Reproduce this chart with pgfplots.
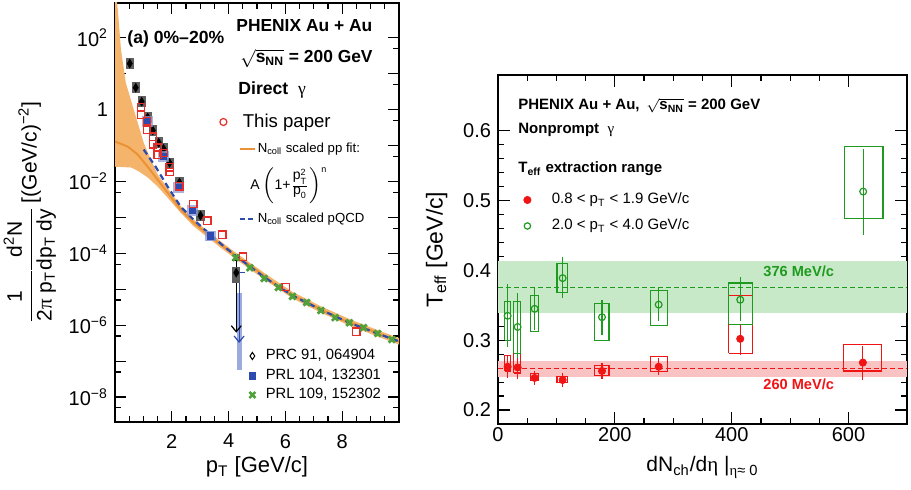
\documentclass[border=0pt]{standalone}
\usepackage{pgfplots}
\pgfplotsset{compat=1.18}
\usetikzlibrary{arrows.meta}
\usepackage{fontspec}
\setmainfont{Liberation Sans}
\newfontfamily\symf{Liberation Serif}
\definecolor{bandor}{RGB}{244,180,108}
\definecolor{lineor}{RGB}{236,146,52}
\definecolor{dblue}{RGB}{45,75,175}
\definecolor{lblue}{RGB}{140,155,215}
\definecolor{dgreen}{RGB}{80,160,60}
\definecolor{pred}{RGB}{230,45,40}
\definecolor{rgreen}{RGB}{30,155,30}
\definecolor{rred}{RGB}{240,20,20}
\definecolor{gband}{RGB}{200,233,200}
\definecolor{rband}{RGB}{250,195,195}
\definecolor{gbox}{RGB}{95,95,95}
\newcommand{\fs}[1]{\fontsize{#1}{#1}\selectfont}
\pgfplotsset{
 legaxis/.style={at={(0pt,0pt)}, anchor=south west, width=455.5pt, height=245pt,
   scale only axis, hide axis, xmin=0, xmax=911, ymin=0, ymax=490, y dir=reverse,
   legend style={draw=none, fill=none, inner sep=0pt, outer sep=0pt, column sep=0pt,
     row sep=0pt, nodes={inner sep=0pt, outer sep=0pt}, anchor=west},
   legend cell align=left},
}
% #1 legend left x (px) = text start - 28, #2 y px, #3 font size, #4 image code, #5 text
\newcommand{\legitem}[5]{%
 \begin{axis}[legaxis, legend style={at={(axis cs:#1,#2)}, font=\fs{#3}},
   legend image code/.code={#4 \path (-14pt,-1pt) (0pt,1pt);}]
 \addlegendimage{}
 \addlegendentry{#5}
 \end{axis}}
\newcommand{\sysbox}[5]{\addplot[#1, line width=0.6pt, no marks, forget plot] coordinates {(#2,#4) (#3,#4) (#3,#5) (#2,#5) (#2,#4)};}
\begin{document}
\begin{tikzpicture}
\path[use as bounding box] (0,0) rectangle (455.5pt,245pt);
% ================= LEFT PANEL =================
\begin{axis}[
 at={(57.5pt,34pt)}, anchor=south west, scale only axis, width=142pt, height=209.5pt,
 ymode=log, xmin=0, xmax=10, ymin=2.02e-9, ymax=927,
 xtick={2,4,6,8},
 minor xtick={0.5,1,1.5,2.5,3,3.5,4.5,5,5.5,6.5,7,7.5,8.5,9,9.5},
 ytick={1e-8,1e-6,1e-4,1e-2,1,1e2},
 yticklabels={10\textsuperscript{−8},10\textsuperscript{−6},10\textsuperscript{−4},10\textsuperscript{−2},1,10\textsuperscript{2}},
 extra y ticks={1e-7,1e-5,1e-3,1e-1,1e1}, extra y tick labels={},
 minor ytick={5e-9,5e-8,5e-7,5e-6,5e-5,5e-4,5e-3,5e-2,5e-1,5,50},
 major tick length=5.5pt, minor tick length=2.8pt,
 tick style={black, line width=0.6pt},
 axis line style={line width=0.7pt},
 tick label style={font=\fs{10}},
 xticklabel style={yshift=-2.5pt},
 /pgf/number format/assume math mode=true,
 xlabel={p\textsubscript{T} [GeV/c]},
 xlabel style={at={(axis description cs:0.5,-0.1217)}, anchor=base, font=\fs{11}},
 ylabel={$\displaystyle\frac{\mbox{1}}{\mbox{2{\symf π} p\textsubscript{T}}}\!\frac{\mbox{d\textsuperscript{2}N}}{\mbox{dp\textsubscript{T} dy}}$\,[(GeV/c)\textsuperscript{−2}]},
 ylabel style={at={(axis description cs:-0.30,0.5)}, anchor=center, font=\fs{10.5}},
]
% pp fit band
\addplot[fill=bandor, draw=none, forget plot] coordinates {
 (0,3162) (0.1,603) (0.21,46.8) (0.38,5.62) (0.63,1.20) (0.84,0.339) (1.01,0.120)
 (1.26,0.0407) (1.5,0.0158) (1.85,0.0066) (2.31,0.00209) (2.76,8.91e-4) (3.36,3.55e-4)
 (3.81,1.91e-4) (4.3,9.77e-5) (5.28,2.75e-5) (6.26,8.32e-6) (7.27,3.31e-6) (8.25,1.48e-6)
 (9.23,7.41e-7) (10,4.37e-7)
 (10,2.88e-7) (9.23,4.9e-7) (8.25,9.77e-7) (7.27,2.19e-6) (6.26,5.5e-6) (5.28,1.82e-5)
 (4.3,6.46e-5) (3.81,1.26e-4) (3.36,2.4e-4) (2.76,5.75e-4) (2.31,0.00135) (1.85,0.00355)
 (1.5,0.00724) (1.15,0.0129) (0.84,0.0191) (0.56,0.0245) (0,0.0257)};
% pp fit central
\addplot[lineor, line width=1pt, no marks, forget plot] coordinates {
 (0,0.129) (0.45,0.0933) (0.80,0.0562) (1.15,0.0257) (1.50,0.0112) (1.85,0.0049)
 (2.31,0.00166) (2.76,7.24e-4) (3.36,2.95e-4) (3.81,1.55e-4) (4.3,7.94e-5) (4.83,4.17e-5)
 (5.28,2.24e-5) (5.73,1.2e-5) (6.26,6.76e-6) (6.75,4.37e-6) (7.27,2.69e-6) (7.76,1.7e-6)
 (8.25,1.2e-6) (8.78,8.51e-7) (9.23,6.03e-7) (9.76,4.17e-7) (10,3.55e-7)};
% pQCD
\addplot[dblue, line width=1.1pt, dash pattern=on 3pt off 2pt, no marks, forget plot] coordinates {
 (1.01,0.0776) (1.43,0.0257) (1.85,0.00724) (2.31,0.002) (2.76,8.71e-4) (3.36,3.31e-4)
 (3.81,1.62e-4) (4.3,7.94e-5) (5.28,2.09e-5) (6.26,6.61e-6) (7.27,2.63e-6) (8.25,1.17e-6)
 (9.23,5.89e-7) (10,3.55e-7)};
% upper limits
\addplot[lblue, line width=2.6pt, opacity=0.85, no marks, forget plot] coordinates {(4.39,8.1e-6) (4.39,5.75e-8)};
\addplot[dblue, line width=0.6pt, no marks, forget plot, -{Straight Barb[length=3pt,width=5pt]}] coordinates {(4.37,2.88e-5) (4.37,3.2e-7)};
\addplot[dblue, line width=0.7pt, no marks, forget plot] coordinates {(4.25,2.88e-5) (4.58,2.88e-5)};
\addplot[gbox, only marks, mark=square*, mark size=1.8pt, mark options={yscale=2.1}, forget plot] coordinates {(4.27,2.5e-5)};
\addplot[black, line width=0.6pt, no marks, forget plot, -{Straight Barb[length=3pt,width=5pt]}] coordinates {(4.27,6.3e-5) (4.27,6.2e-7)};
\addplot[black, line width=0.7pt, no marks, forget plot] coordinates {(4.13,6.3e-5) (4.51,6.3e-5)};
% PRC 91 (gray boxes + black diamonds)
\addplot[gbox, only marks, mark=square*, mark size=1.8pt, mark options={yscale=1.35}, forget plot] coordinates {
 (0.52,19.1) (0.73,4.07) (0.94,1.66) (1.15,0.603) (1.33,0.263) (1.54,0.120) (1.71,0.0813)
 (1.92,0.0331) (2.27,0.00933) (3.01,0.00112)};
\addplot[black, only marks, mark=diamond*, mark size=2.1pt, mark options={xscale=0.8}, forget plot] coordinates {
 (0.52,19.1) (0.73,4.07) (0.94,1.66) (1.15,0.603) (1.33,0.263) (1.54,0.120) (1.71,0.0813)
 (1.92,0.0331) (2.27,0.00933) (3.01,0.00112) (4.27,2.88e-5)};
% PRL 104 (blue)
\addplot[lblue, only marks, mark=square*, mark size=2.4pt, opacity=0.75, forget plot] coordinates {
 (1.15,0.468) (1.71,0.049) (2.24,0.00676) (2.73,0.00155) (3.36,3.09e-4)};
\addplot[dblue, only marks, mark=square*, mark size=1.6pt, forget plot] coordinates {
 (1.15,0.468) (1.71,0.049) (2.24,0.00676) (2.73,0.00155) (3.36,3.09e-4) (4.41,1.8e-9)};
% This paper (red)
\addplot[pred, only marks, mark=square, mark size=1.8pt, line width=0.6pt, forget plot] coordinates {
 (0.91,1.20) (0.91,0.724) (1.12,0.468) (1.12,0.275) (1.33,0.178) (1.33,0.107) (1.50,0.0871)
 (1.50,0.0562) (1.71,0.0631) (1.92,0.0245) (1.92,0.0186) (2.27,0.00724) (2.76,0.0024)
 (3.25,8.13e-4) (3.78,3.31e-4) (4.51,8.13e-5) (6.01,1.17e-5) (8.50,6.61e-7)};
% PRL 109 (green)
\addplot[dgreen, only marks, mark=x, mark size=2.2pt, line width=1.4pt, forget plot] coordinates {
 (4.25,7.59e-5) (4.75,3.98e-5) (5.25,2.0e-5) (5.75,1.12e-5) (6.25,6.31e-6) (6.75,4.27e-6)
 (7.25,2.57e-6) (7.75,1.62e-6) (8.25,1.17e-6) (8.75,8.51e-7) (9.25,5.89e-7) (9.75,3.98e-7)};
\end{axis}
% ================= RIGHT PANEL =================
\begin{axis}[
 at={(249pt,33pt)}, anchor=south west, scale only axis, width=204.5pt, height=174.5pt,
 xmin=0, xmax=700, ymin=0.18, ymax=0.68,
 xtick={0,200,400,600}, minor x tick num=3,
 ytick={0.2,0.3,0.4,0.5,0.6}, yticklabels={0.2,0.3,0.4,0.5,0.6}, minor y tick num=4,
 major tick length=6pt, minor tick length=3pt,
 tick style={black, line width=0.6pt},
 axis line style={line width=0.7pt},
 tick label style={font=\fs{10}},
 xticklabel style={inner sep=1.5pt},
 /pgf/number format/assume math mode=true,
 xlabel={dN\textsubscript{ch}/d{\symf η} |\textsubscript{{\symf η}≈ 0}},
 xlabel style={at={(axis description cs:0.5,-0.1375)}, anchor=base, font=\fs{10.5}},
 ylabel={T\textsubscript{eff} [GeV/c]},
 ylabel style={at={(axis description cs:-0.150,0.5)}, anchor=center, font=\fs{11.5}},
]
\addplot[fill=gband, draw=none, forget plot] coordinates {(0,0.339) (700,0.339) (700,0.413) (0,0.413)};
\addplot[fill=rband, draw=none, forget plot] coordinates {(0,0.248) (700,0.248) (700,0.270) (0,0.270)};
\addplot[rgreen, line width=0.6pt, dash pattern=on 2.5pt off 1.5pt, no marks, forget plot] coordinates {(0,0.376) (700,0.376)};
\addplot[rred, line width=0.6pt, dash pattern=on 2.5pt off 1.5pt, no marks, forget plot] coordinates {(0,0.260) (700,0.260)};
% red systematic boxes
\sysbox{rred}{11.4}{21.1}{0.256}{0.278}
\sysbox{rred}{26.8}{38.2}{0.253}{0.281}
\sysbox{rred}{55.3}{69.6}{0.242}{0.252}
\sysbox{rred}{101}{119}{0.239}{0.248}
\sysbox{rred}{165}{190}{0.250}{0.264}
\sysbox{rred}{260.6}{290}{0.255}{0.277}
\sysbox{rred}{394.6}{435.7}{0.281}{0.364}
\sysbox{rred}{591}{657}{0.256}{0.294}
% green systematic boxes
\sysbox{rgreen}{11.4}{21.1}{0.300}{0.355}
\sysbox{rgreen}{26.8}{38.2}{0.281}{0.355}
\sysbox{rgreen}{55.3}{69.6}{0.313}{0.364}
\sysbox{rgreen}{101}{119}{0.368}{0.410}
\sysbox{rgreen}{165}{190}{0.300}{0.353}
\sysbox{rgreen}{260.6}{290}{0.321}{0.371}
\sysbox{rgreen}{394.6}{435.7}{0.323}{0.382}
\sysbox{rgreen}{593.6}{658.8}{0.474}{0.578}
% red points
\addplot[rred, only marks, mark=*, mark size=1.8pt, forget plot,
 error bars/.cd, y dir=both, y explicit, error mark=none, error bar style={line width=0.6pt}]
 coordinates {
 (16.5,0.262) += (0,0.016) -= (0,0.016)
 (33.6,0.261) += (0,0.016) -= (0,0.016)
 (62.7,0.246) += (0,0.010) -= (0,0.010)
 (110.6,0.243) += (0,0.0095) -= (0,0.0095)
 (178,0.256) += (0,0.011) -= (0,0.011)
 (275,0.262) += (0,0.012) -= (0,0.012)
 (414.6,0.302) += (0,0.020) -= (0,0.023)
 (624.5,0.268) += (0,0.024) -= (0,0.025)};
% green points
\addplot[rgreen, only marks, mark=o, mark size=1.7pt, line width=0.6pt, forget plot,
 error bars/.cd, y dir=both, y explicit, error mark=none, error bar style={line width=0.6pt}]
 coordinates {
 (16.5,0.335) += (0,0.045) -= (0,0.045)
 (33.6,0.319) += (0,0.049) -= (0,0.044)
 (62.7,0.345) += (0,0.031) -= (0,0.030)
 (110.6,0.389) += (0,0.030) -= (0,0.029)
 (178,0.333) += (0,0.024) -= (0,0.025)
 (275,0.351) += (0,0.025) -= (0,0.024)
 (414.6,0.358) += (0,0.032) -= (0,0.031)
 (625,0.513) += (0,0.061) -= (0,0.062)};
\end{axis}
% ================= LEGENDS =================
\legitem{214}{122}{9.3}{\draw[pred, line width=0.6pt] (-9.5pt,0pt) circle (1.75pt);}{This paper}
\legitem{229}{149}{6.6}{\draw[lineor, line width=1.2pt] (-8.5pt,0pt) -- (-1pt,0pt);}{N\textsubscript{coll} scaled pp fit:}
\legitem{229}{219}{6.6}{\draw[dblue, line width=1pt, dash pattern=on 2.5pt off 1.5pt] (-8.5pt,0pt) -- (-0.5pt,0pt);}{N\textsubscript{coll} scaled pQCD}
\legitem{237}{356}{7.4}{\draw[black, line width=0.5pt] (-6.5pt,1.8pt) -- (-5.3pt,0pt) -- (-6.5pt,-1.8pt) -- (-7.7pt,0pt) -- cycle;}{PRC 91, 064904}
\legitem{237}{376}{7.4}{\fill[dblue] (-8.1pt,-1.6pt) rectangle (-4.9pt,1.6pt);}{PRL 104, 132301}
\legitem{237}{395}{7.4}{\draw[dgreen, line width=1.3pt] (-8pt,-1.5pt) -- (-5pt,1.5pt) (-8pt,1.5pt) -- (-5pt,-1.5pt);}{PRL 109, 152302}
\legitem{523}{200}{7.5}{\fill[rred] (-12pt,0pt) circle (1.8pt);}{0.8 < p\textsubscript{T} < 1.9 GeV/c}
\legitem{523}{226}{7.5}{\draw[rgreen, line width=0.6pt] (-12pt,0pt) circle (1.6pt);}{2.0 < p\textsubscript{T} < 4.0 GeV/c}
% ================= TEXT =================
\begin{scope}[x=0.5pt, y=-0.5pt, yshift=245pt]
\node[anchor=base west, font=\bfseries\fs{8.8}, inner sep=0pt] at (127,44) {(a) 0\%–20\%};
\node[anchor=base west, font=\bfseries\fs{8.7}, inner sep=0pt] at (236,32) {PHENIX Au + Au};
\node[anchor=base west, font=\bfseries\fs{8.7}, inner sep=0pt] at (240,63) {$\sqrt{\mbox{s\textsubscript{NN}}}$ = 200 GeV};
\node[anchor=base west, font=\bfseries\fs{8.8}, inner sep=0pt] at (238,95) {Direct\; {\symf\mdseries γ}};
\node[font=\fs{7}, inner sep=0pt] at (289,186) {$\mbox{A}\left(\mbox{1+}\frac{\mbox{p}^{\mbox{\fs{4.5}2}}_{\mbox{\fs{4.5}T}}}{\mbox{p}_{\mbox{\fs{4.5}0}}}\right)^{\mbox{\fs{4.5}n}}$};
\node[anchor=base west, font=\bfseries\fs{7.5}, inner sep=0pt] at (518,110) {PHENIX Au + Au,\, $\sqrt{\mbox{s\textsubscript{NN}}}$ = 200 GeV};
\node[anchor=base west, font=\bfseries\fs{7.5}, inner sep=0pt] at (518,134) {Nonprompt\; {\symf\mdseries γ}};
\node[anchor=base west, font=\bfseries\fs{7.5}, inner sep=0pt] at (518,173) {T\textsubscript{eff} extraction range};
\node[anchor=base west, font=\bfseries\fs{7.3}, inner sep=0pt, text=rgreen] at (763,277) {376 MeV/c};
\node[anchor=base west, font=\bfseries\fs{7.3}, inner sep=0pt, text=rred] at (763,390) {260 MeV/c};
\end{scope}
\end{tikzpicture}
\end{document}
